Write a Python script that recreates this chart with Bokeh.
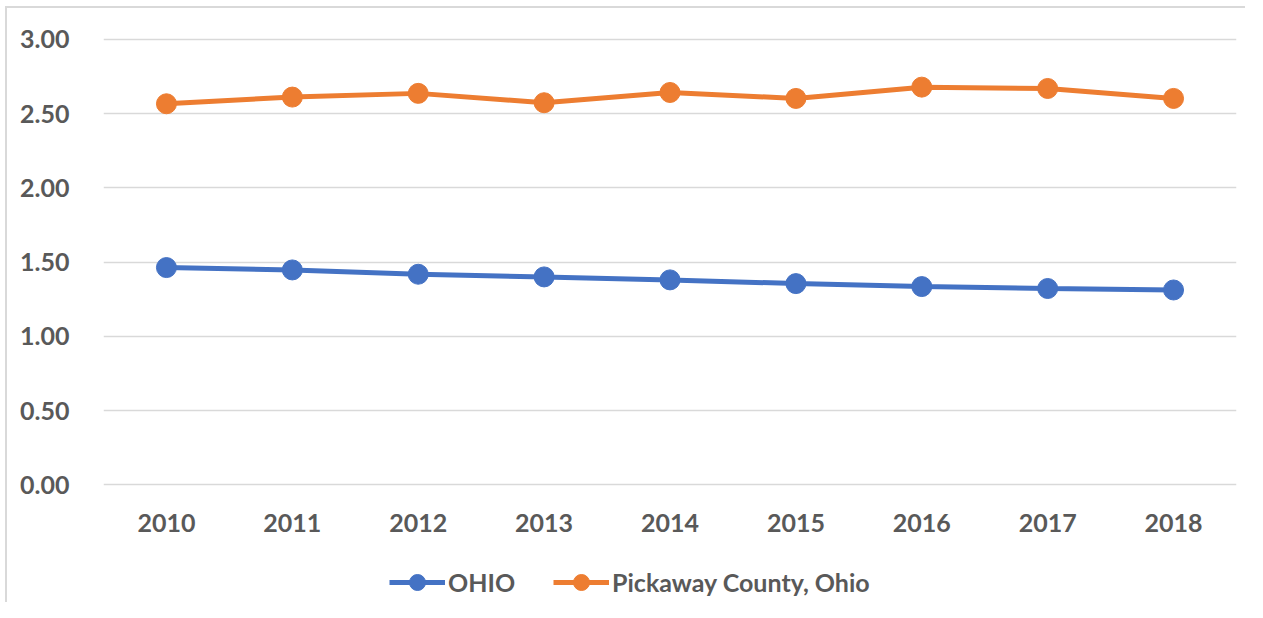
from bokeh.plotting import figure
from bokeh.models import Range1d, FactorRange, Legend, LegendItem, NumeralTickFormatter
from bokeh.embed import file_html
from bokeh.resources import INLINE

years = ["2010", "2011", "2012", "2013", "2014", "2015", "2016", "2017", "2018"]
ohio = [1.464, 1.448, 1.419, 1.401, 1.381, 1.356, 1.336, 1.323, 1.313]
pickaway = [2.567, 2.612, 2.637, 2.574, 2.643, 2.603, 2.679, 2.670, 2.603]
y_ticks = [0.0, 0.5, 1.0, 1.5, 2.0, 2.5, 3.0]

BLUE = "#4472C4"
ORANGE = "#ED7D31"
TEXT = "#595959"
GRID = "#D9D9D9"
FONT = "Lato"

p = figure(width=1240, height=596, output_backend="svg", toolbar_location=None,
           x_range=FactorRange(*years, range_padding=0),
           y_range=Range1d(-0.805, 3.02),
           min_border_left=96, min_border_right=11, min_border_top=28, min_border_bottom=0)
p.styles = {"border-left": "2px solid #D9D9D9", "border-top": "2px solid #D9D9D9",
            "margin-left": "5px", "margin-top": "6px"}

p.outline_line_color = None
p.xgrid.grid_line_color = None
p.ygrid.grid_line_color = GRID
p.ygrid.grid_line_width = 1.5
p.yaxis.ticker = y_ticks
p.yaxis.formatter = NumeralTickFormatter(format="0.00")

for ax in (p.xaxis[0], p.yaxis[0]):
    ax.axis_line_color = None
    ax.major_tick_line_color = None
    ax.minor_tick_line_color = None
    ax.major_label_text_font = FONT
    ax.major_label_text_font_style = "bold"
    ax.major_label_text_font_size = "25px"
    ax.major_label_text_color = TEXT
p.yaxis.major_label_standoff = 28
p.xaxis.fixed_location = 0
p.xaxis.major_label_standoff = 23

l1 = p.line(years, ohio, line_color=BLUE, line_width=5)
s1 = p.scatter(years, ohio, size=20, fill_color=BLUE, line_color=BLUE)
l2 = p.line(years, pickaway, line_color=ORANGE, line_width=5)
s2 = p.scatter(years, pickaway, size=20, fill_color=ORANGE, line_color=ORANGE)

legend = Legend(items=[LegendItem(label="OHIO", renderers=[l1, s1]),
                       LegendItem(label="Pickaway County, Ohio", renderers=[l2, s2])],
                orientation="horizontal", location=(286, 2),
                glyph_width=56, glyph_height=40, label_standoff=3, spacing=38,
                padding=0, margin=0, border_line_color=None, background_fill_alpha=0,
                label_text_font=FONT, label_text_font_style="bold",
                label_text_font_size="25px", label_text_color=TEXT)
p.add_layout(legend, "center")

open("out.html", "w").write(file_html(p, INLINE))
